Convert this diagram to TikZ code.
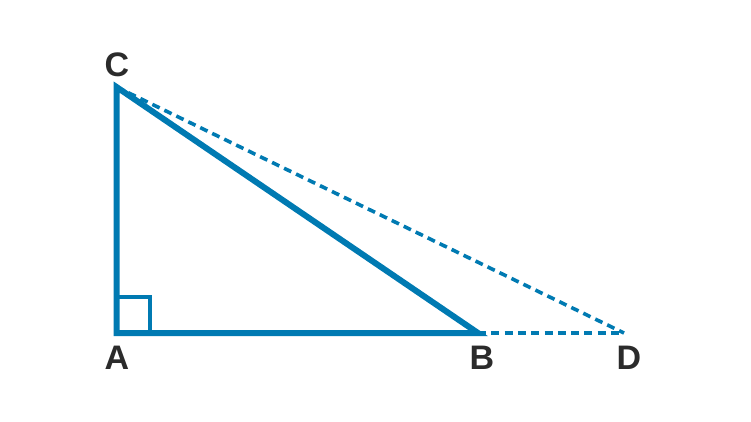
\documentclass[tikz,border=0pt]{standalone}
\usepackage{fontspec}
\setmainfont{Liberation Sans}
\definecolor{triblue}{RGB}{0,122,178}
\definecolor{labelgray}{RGB}{43,43,43}
\begin{document}
\begin{tikzpicture}[x=1pt,y=-1pt,
  side/.style={draw=triblue,line width=6pt,line join=miter},
  dashline/.style={draw=triblue,line width=3.6pt,dash pattern=on 8pt off 5.3pt},
  rightmark/.style={draw=triblue,line width=4pt},
  lbl/.style={text=labelgray,font=\fontsize{34}{34}\selectfont\bfseries,inner sep=0pt}]
\useasboundingbox (0,0) rectangle (751,421);
\coordinate (A) at (116.5,333);
\coordinate (B) at (478,333);
\coordinate (C) at (116.5,87);
\coordinate (D) at (624,333);
\draw[dashline] (C) -- (D);
\draw[dashline] (B) -- (D);
\draw[rightmark] (116.5,297) -| (149.5,333);
\draw[side] (A) -- (B) -- (C) -- cycle;
\node[lbl] (lC) at (117,65) {C};
\node[lbl] (lA) at (117,358) {A};
\node[lbl] (lB) at (482,358) {B};
\node[lbl] (lD) at (629,358) {D};
\end{tikzpicture}
\end{document}
